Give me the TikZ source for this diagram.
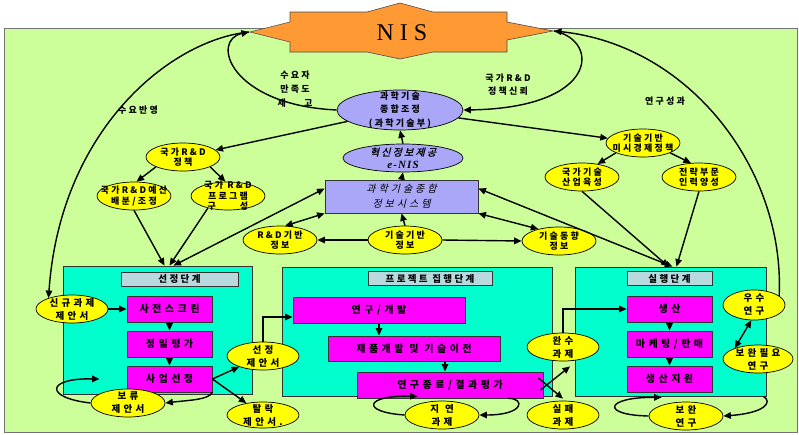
\documentclass[tikz,border=0pt]{standalone}
\usepackage{fontspec}
\usetikzlibrary{arrows.meta,shapes.geometric,calc}
\newfontfamily\kr{Noto Sans CJK KR}[LetterSpace=25]
\newfontfamily\krwide{Noto Sans CJK KR}[LetterSpace=35]
\newfontfamily\krit{Noto Sans CJK KR}[LetterSpace=30,FakeSlant=0.25]
\newfontfamily\kritb{Noto Sans CJK KR}[LetterSpace=22,FakeSlant=0.25,FakeBold=1.2]
\newfontfamily\nisfont{Liberation Serif}[LetterSpace=25]
\newfontfamily\serifbi{Liberation Serif}[LetterSpace=10]
\definecolor{panel}{RGB}{204,255,153}
\definecolor{stagec}{RGB}{0,255,204}
\definecolor{magc}{RGB}{255,0,255}
\definecolor{yelc}{RGB}{255,255,0}
\definecolor{lavc}{RGB}{170,166,248}
\definecolor{barc}{RGB}{184,218,222}
\definecolor{nisc}{RGB}{255,153,51}
\begin{document}
\begin{tikzpicture}[x=1pt,y=-1pt,
  yell/.style={ellipse, draw=black, line width=0.7pt, fill=yelc, inner sep=0pt,
    minimum width=74pt, minimum height=28pt},
  lbl/.style={font=\kr\bfseries\fontsize{9}{10.5}\selectfont, align=center, inner sep=0pt},
  lblb/.style={font=\krwide\bfseries\fontsize{9.5}{13}\selectfont, align=center, inner sep=0pt},
  lav/.style={ellipse, draw=black, line width=0.7pt, fill=lavc, inner sep=0pt},
  stage/.style={draw=black!80, line width=0.8pt, fill=stagec, inner sep=0pt},
  bar/.style={draw=black!80, line width=0.8pt, fill=barc, inner sep=0pt, minimum height=14pt,
    font=\kr\bfseries\fontsize{9.5}{11}\selectfont},
  mag/.style={draw=black!80, line width=0.8pt, fill=magc, inner sep=0pt, minimum width=85pt,
    minimum height=26pt, font=\krwide\bfseries\fontsize{10}{12}\selectfont},
  note/.style={font=\kr\bfseries\fontsize{9}{14}\selectfont, align=center, inner sep=0pt},
  arr/.style={-{Triangle[length=7.5pt,width=6.5pt]}, line width=1.4pt},
  darr/.style={{Triangle[length=7.5pt,width=6.5pt]}-{Triangle[length=7.5pt,width=6.5pt]}, line width=1.4pt}]
\useasboundingbox (0,0) rectangle (799,434);

% background panel and the NIS banner
\draw[fill=panel, draw=black!55, line width=1pt] (4,28) rectangle (797,432);
\draw[fill=nisc, draw=black!70, line width=0.6pt]
  (250,32) -- (290,22) -- (290,12) -- (367,12) -- (400,3) -- (433,12) -- (507,12) -- (507,22)
  -- (553,31) -- (507,40) -- (507,52) -- (433,52) -- (400,59) -- (367,52) -- (290,52) -- (290,42) -- cycle;
\node[font=\nisfont\fontsize{24}{26}\selectfont, inner sep=0pt] (nis) at (402,33) {NIS};
\coordinate (nisL) at (249,32);
\coordinate (nisR) at (554,31);

% central column
\node[lav, minimum width=126pt, minimum height=40pt,
  label={[lbl, font=\kr\bfseries\fontsize{9}{13.5}\selectfont]center:{과학기술\\종합조정\\(과학기술부)}}] (kwa) at (400,110) {};
\node[lav, minimum width=120pt, minimum height=28pt,
  label={[lbl, font=\kritb\fontsize{10}{12.5}\selectfont]center:{혁신정보제공\\{\serifbi\bfseries\itshape\fontsize{11}{12}\selectfont e-NIS}}}] (enis) at (403,158) {};
\node[draw=black!80, line width=0.8pt, fill=lavc, minimum width=153pt, minimum height=33pt, inner sep=0pt,
  align=center, font=\krit\fontsize{10}{15}\selectfont] (info) at (401.5,196.5) {과학기술종합\\정보시스템};

% policy ellipses
\node[yell, label={[lbl]center:{국가R\&D\\정책}}] (pol) at (183,157) {};
\node[yell, label={[lbl]center:{국가R\&D예산\\배분/조정}}] (bud) at (134,196) {};
\node[yell, label={[lbl]center:{국가 R\&D\\프로그램\\구\hspace{24pt}성}}] (prog) at (228,196) {};
\node[yell, label={[lbl]center:{기술기반\\미시경제정책}}] (mic) at (643,143) {};
\node[yell, label={[lbl]center:{국가기술\\산업육성}}] (ind) at (582,177) {};
\node[yell, label={[lbl]center:{전략부문\\인력양성}}] (hr) at (699,177) {};
\node[yell, label={[lbl]center:{R\&D기반\\정보}}] (rdb) at (280,240) {};
\node[yell, label={[lbl]center:{기술기반\\정보}}] (tb) at (405,240) {};
\node[yell, label={[lbl]center:{기술동향\\정보}}] (ttr) at (559,241) {};

% stage panels
\node[stage, minimum width=189pt, minimum height=128pt] (sel) at (157.5,330) {};
\node[stage, minimum width=270pt, minimum height=129pt] (prj) at (417,331.5) {};
\node[stage, minimum width=191pt, minimum height=129pt] (ex) at (670.5,331.5) {};
\node[bar, minimum width=117pt] (selbar) at (179.5,279) {선정단계};
\node[bar, minimum width=124pt] (prjbar) at (430,278.5) {프로젝트 집행단계};
\node[bar, minimum width=85pt] (exbar) at (669.5,278.5) {실행단계};

\node[mag] (scr) at (169.5,309) {사전스크린};
\node[mag] (prec) at (169.5,344) {정밀평가};
\node[mag] (bsel) at (169.5,379) {사업선정};
\node[mag, minimum width=172pt] (rd) at (379,310) {연구/개발};
\node[mag, minimum width=172pt, minimum height=25pt] (prod) at (414,348.5) {제품개발 및 기술이전};
\node[mag, minimum width=186pt] (fin) at (450,385) {연구종료/결과평가};
\node[mag] (gen) at (669.5,309) {생산};
\node[mag] (mkt) at (669.5,344) {마케팅/판매};
\node[mag] (sup) at (669.5,379) {생산지원};

% proposal and outcome ellipses
\node[yell, minimum width=72pt, label={[lblb]center:{신규과제\\제안서}}] (new) at (72,309) {};
\node[yell, minimum width=72pt, label={[lblb]center:{선정\\제안서}}] (selp) at (263,356) {};
\node[yell, minimum width=72pt, minimum height=26pt, label={[lblb]center:{탈락\\제안서.}}] (drop) at (263,415) {};
\node[yell, label={[lblb]center:{보류\\제안서}}] (hold) at (128,403) {};
\node[yell, label={[lblb]center:{지\hspace{6pt}연\\과제}}] (delay) at (442,415) {};
\node[yell, minimum width=72pt, label={[lblb]center:{완수\\과제}}] (comp) at (563,347) {};
\node[yell, minimum width=72pt, label={[lblb]center:{실패\\과제}}] (fail) at (563,415) {};
\node[yell, minimum width=62pt, minimum height=30pt, label={[lblb]center:{우수\\연구}}] (exc) at (754,305) {};
\node[yell, minimum width=70pt, label={[lblb]center:{보완필요\\연구}}] (need) at (758,359) {};
\node[yell, label={[lblb]center:{보완\\연구}}] (supp) at (686,416) {};

% free labels
\node[note] (lreq) at (138,110) {수요반영};
\node[note] (lsat) at (295,89) {수요자\\만족도\\제\hspace{18pt}고};
\node[note, font=\kr\bfseries\fontsize{9}{13}\selectfont] (ltrust) at (508,85) {국가R\&D\\정책신뢰};
\node[note] (lres) at (665,101) {연구성과};

% NIS feedback loops
\draw[arr] (nisL) .. controls (170,40) and (60,130) .. (new.155);
\draw[arr] (kwa.west) .. controls (230,105) and (210,40) .. (nisL);
\draw[arr] (nisR) .. controls (600,40) and (600,108) .. (kwa.east);
\draw[arr] (exc.20) .. controls (785,170) and (690,45) .. (nisR);

% central column links
\draw[arr] (info.north) -- (enis.south);
\draw[arr] (enis.north) -- (kwa.south);
\draw[arr] (kwa) -- (pol);
\draw[arr] (kwa) -- (mic);
\draw[arr] (tb.north) -- (info.south);
\draw[arr] (tb.west) -- (rdb.east);
\draw[arr] (tb.east) -- (ttr.west);
\draw[darr] (rdb.70) -- (info.south west);
\draw[darr] (info.south east) -- (ttr.150);

% policy tree
\draw[arr] (pol.200) -- (bud.80);
\draw[arr] (pol.-20) -- (prog.100);
\draw[arr] (bud.south) -- ($(sel.north)+(7,0)$);
\draw[arr] (prog.211) -- ($(sel.north)+(12,0)$);
\draw[darr] ($(info.west)+(0,-8)$) -- ($(sel.north)+(16,0)$);
\draw[arr] (mic.200) -- (ind.40);
\draw[arr] (mic.-20) -- (hr.120);
\draw[arr] (ind.south) -- ($(ex.north)+(-2,0)$);
\draw[arr] (hr.south) -- ($(ex.north)+(6,0)$);
\draw[darr] ($(info.east)+(0,-8)$) -- ($(ex.north)+(2,0)$);

% selection stage
\draw[arr] (new.east) -- (scr.west);
\draw[arr] (scr.south) -- (prec.north);
\draw[arr] (prec.south) -- (bsel.north);
\draw[arr] (bsel.east) -- (selp);
\draw[arr] (bsel.east) -- (drop);
\draw[arr] (bsel.south east) .. controls (208,400) and (190,400) .. (hold.east);
\draw[arr] (hold.west) .. controls (45,398) and (45,378) .. ($(sel.west)+(37,49)$);
\draw[arr] (selp.north) |- ($(rd.west)+(0,7)$);

% project stage
\draw[arr] (rd.south) -- (prod.north -| rd.south);
\draw[arr] ($(prod.south)+(31,0)$) -- ($(fin.north)+(-5,0)$);
\draw[arr] ($(fin.south east)+(-35,0)$) .. controls (525,398) and (525,415) .. (delay.east);
\draw[arr] (delay.west) .. controls (360,412) and (365,395) .. ($(fin.south west)+(61,-2)$);
\draw[arr] ($(fin.east)+(-3,5)$) -- ($(comp.south)+(7,5)$);
\draw[arr] ($(fin.east)+(-5,-7)$) -- ($(fail.north)+(0,-2)$);
\draw[arr] (comp.north) |- (gen.west);

% execution stage
\draw[arr] (gen.south) -- (mkt.north);
\draw[arr] (mkt.south) -- (sup.north);
\draw[darr] (need.155) -- (exc.-100);
\draw[arr] ($(ex.south east)+(-3,0)$) .. controls (773,402) and (765,413) .. (supp.east);
\draw[arr] (supp.west) .. controls (600,415) and (605,397) .. ($(ex.south west)+(87,1)$);
\end{tikzpicture}
\end{document}
